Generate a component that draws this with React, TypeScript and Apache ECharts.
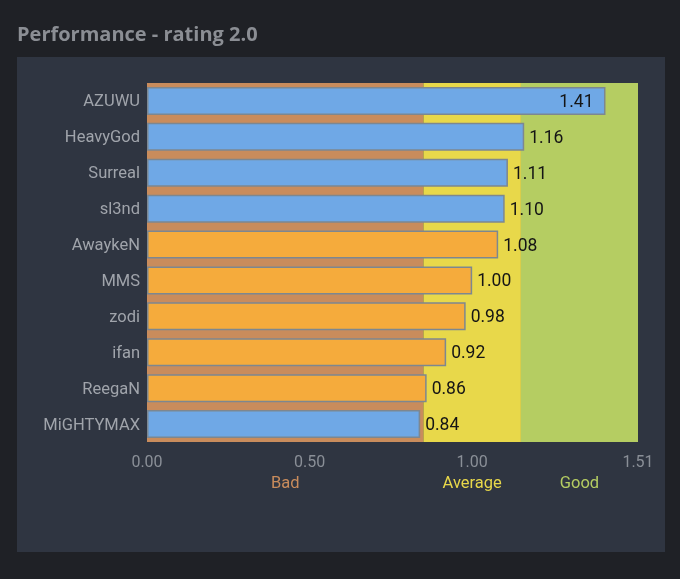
import React, { useEffect, useRef } from "react";
import * as echarts from "echarts";

const players = ["AZUWU", "HeavyGod", "Surreal", "sl3nd", "AwaykeN", "MMS", "zodi", "ifan", "ReegaN", "MiGHTYMAX"];
const ratings = [1.41, 1.16, 1.11, 1.10, 1.08, 1.00, 0.98, 0.92, 0.86, 0.84];
const teams = ["blue", "blue", "blue", "blue", "orange", "orange", "orange", "orange", "orange", "blue"];
const bandNames = ["Bad", "Average", "Good"];
const bandEdges = [0, 0.85, 1.15, 1.51];
const tickValues = [0, 0.5, 1.0, 1.51];

const teamColors: Record<string, string> = { blue: "#6fa8e6", orange: "#f5ab3c" };
const bandColors = ["#c98c5c", "#e8d84a", "#b5cd62"];

export default function App() {
  const ref = useRef<HTMLDivElement>(null);
  useEffect(() => {
    if (!ref.current) return;
    const chart = echarts.init(ref.current, null, { renderer: "svg" });
    const xMin = bandEdges[0];
    const xMax = bandEdges[bandEdges.length - 1];
    chart.setOption({
      animation: false,
      backgroundColor: "transparent",
      grid: { left: 147, right: 42, top: 83, bottom: 137 },
      xAxis: {
        type: "value",
        min: xMin,
        max: xMax,
        splitLine: { show: false },
        axisLine: { show: false },
        axisTick: { show: false },
        axisLabel: {
          customValues: tickValues,
          color: "#8a8f97",
          fontSize: 16,
          fontFamily: "Roboto",
          margin: 11,
          formatter: (v: number) => v.toFixed(2),
        },
      },
      yAxis: {
        type: "category",
        data: players,
        inverse: true,
        axisLine: { show: false },
        axisTick: { show: false },
        splitLine: { show: false },
        axisLabel: { color: "#a0a4ab", fontSize: 16.5, fontFamily: "Roboto", margin: 7 },
      },
      series: [
        {
          type: "line",
          data: [],
          z: 1,
          silent: true,
          markArea: {
            silent: true,
            label: { show: false },
            data: bandNames.map((name, i) => [
              { name, xAxis: bandEdges[i], itemStyle: { color: bandColors[i], opacity: 1 } },
              { xAxis: bandEdges[i + 1] },
            ]),
          },
        },
        {
          type: "bar",
          z: 3,
          barWidth: "78%",
          data: ratings.map((v, i) => ({
            value: v,
            itemStyle: { color: teamColors[teams[i]] },
            label: i === 0 ? { position: "insideRight", distance: 12 } : undefined,
          })),
          itemStyle: { borderColor: "#7d8790", borderWidth: 1.5 },
          label: {
            show: true,
            position: "right",
            distance: 5,
            color: "#151515",
            fontSize: 17.5,
            fontFamily: "Roboto",
            formatter: (p: any) => p.value.toFixed(2),
          },
        },
      ],
    });
    const labelY = 482;
    const graphics = bandNames.map((name, i) => {
      const mid = (bandEdges[i] + bandEdges[i + 1]) / 2;
      const px = chart.convertToPixel({ xAxisIndex: 0 }, mid) as number;
      return {
        type: "text",
        x: px,
        y: labelY,
        style: {
          text: name,
          fill: bandColors[i],
          fontSize: 16.5,
          fontFamily: "Roboto",
          textAlign: "center",
          textVerticalAlign: "middle",
        },
      };
    });
    chart.setOption({
      graphic: [
        { type: "rect", z: -10, silent: true, shape: { x: 0, y: 0, width: 680, height: 579 }, style: { fill: "#1f2126" } },
        { type: "rect", z: -9, silent: true, shape: { x: 17, y: 57, width: 648, height: 495 }, style: { fill: "#2f3541" } },
        {
          type: "text",
          x: 17,
          y: 33,
          style: {
            text: "Performance - rating 2.0",
            fill: "#8b8e94",
            fontSize: 20,
            fontWeight: "bold",
            fontFamily: "Open Sans",
            textVerticalAlign: "middle",
          },
        },
        ...graphics,
      ],
    });
    return () => chart.dispose();
  }, []);
  return <div ref={ref} style={{ position: "fixed", left: 0, top: 0, width: 680, height: 579 }} />;
}
